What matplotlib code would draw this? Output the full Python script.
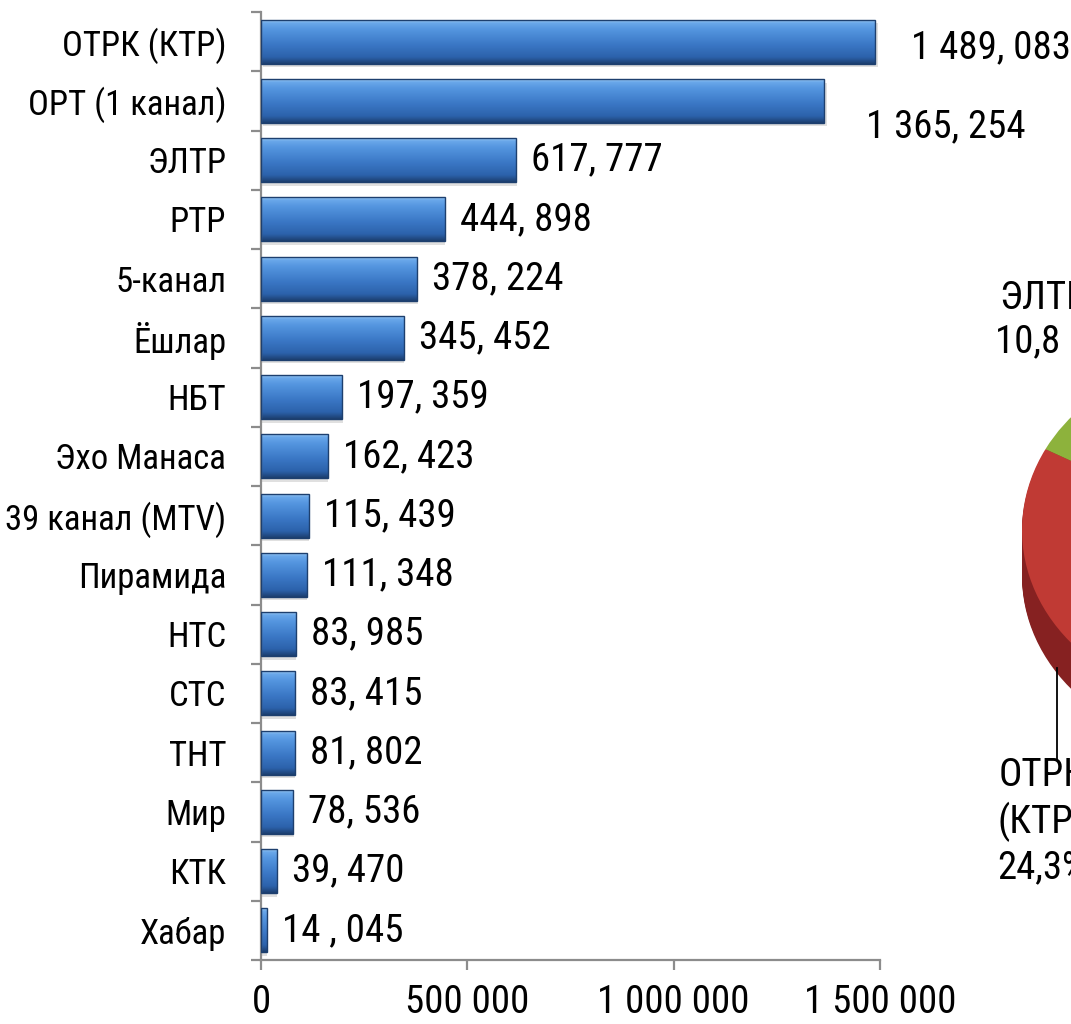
import numpy as np
import matplotlib
matplotlib.use("Agg")
import matplotlib.pyplot as plt
from matplotlib.colors import LinearSegmentedColormap
from matplotlib.lines import Line2D

plt.rcParams["font.family"] = ["Roboto Condensed", "DejaVu Sans"]

# ---- data -------------------------------------------------------------------
channels = ["ОТРК (КТР)", "ОРТ (1 канал)", "ЭЛТР", "РТР", "5-канал", "Ёшлар",
            "НБТ", "Эхо Манаса", "39 канал (MTV)", "Пирамида", "НТС", "СТС",
            "ТНТ", "Мир", "КТК", "Хабар"]
values = [1489083, 1365254, 617777, 444898, 378224, 345452, 197359, 162423,
          115439, 111348, 83985, 83415, 81802, 78536, 39470, 14045]
value_labels = ["1 489, 083", "1 365, 254", "617, 777", "444, 898", "378, 224",
                "345, 452", "197, 359", "162, 423", "115, 439", "111, 348",
                "83, 985", "83, 415", "81, 802", "78, 536", "39, 470", "14 , 045"]
xticks = [0, 500000, 1000000, 1500000]
xtick_labels = ["0", "500 000", "1 000 000", "1 500 000"]

pie_labels = ["ЭЛТР\n10,8 %", "ОТРК\n(КТР)\n24,3%"]
pie_values = [10.8, 24.3, 64.9]   # last slice lies outside the visible crop

# ---- figure -----------------------------------------------------------------
W, H = 1071, 1024
fig = plt.figure(figsize=(W / 100, H / 100), dpi=100)
ax = fig.add_axes([261 / W, 1 - 960 / H, (880 - 261) / W, (960 - 12) / H])

n = len(channels)
ypos = np.arange(n)
bh = 0.74

grad = LinearSegmentedColormap.from_list("bar", [
    (0.00, "#9cc8f4"), (0.06, "#6aa8ea"), (0.20, "#5596e0"),
    (0.55, "#3b78c6"), (0.85, "#2c62ab"), (1.00, "#1c3f70")])
col = np.linspace(0, 1, 64).reshape(-1, 1)

for y, v in zip(ypos, values):
    # soft shadow under the bar
    ax.add_patch(plt.Rectangle((v * 0.004, y - bh / 2 + 0.06), v, bh,
                 facecolor="#000000", alpha=0.12, linewidth=0, zorder=1))
    ax.imshow(col, cmap=grad, aspect="auto", interpolation="bilinear",
              extent=(0, v, y + bh / 2, y - bh / 2), zorder=2)
    ax.add_patch(plt.Rectangle((0, y - bh / 2), v, bh, facecolor="none",
                 edgecolor="#1d3f6e", linewidth=1.0, zorder=3))

label_offsets = {0: (36, 6), 1: (42, 26)}
for i, (v, lab) in enumerate(zip(values, value_labels)):
    dx, dy = label_offsets.get(i, (15, 0))
    ax.annotate(lab, (v, ypos[i]), textcoords="offset pixels",
                xytext=(dx, -dy), ha="left", va="center", fontsize=28,
                color="black", annotation_clip=False)

ax.set_xlim(0, 1500000)
ax.set_ylim(n - 0.5, -0.5)
for s in ("top", "right"):
    ax.spines[s].set_visible(False)
for s in ("left", "bottom"):
    ax.spines[s].set_color("#8c8c8c")
    ax.spines[s].set_linewidth(1.6)

ax.set_yticks(ypos)
ax.set_yticklabels(channels, fontsize=25)
ax.set_yticks(np.arange(n + 1) - 0.5, minor=True)
ax.tick_params(axis="y", which="major", length=0, pad=25)
ax.tick_params(axis="y", which="minor", length=7, width=1.6, color="#8c8c8c")
ax.set_xticks(xticks)
ax.set_xticklabels(xtick_labels, fontsize=28)
ax.tick_params(axis="x", length=7, width=1.6, color="#8c8c8c", pad=10)

# ---- pie fragment at the right edge (ellipse, extruded) ---------------------
cx, cy, rx, ry = 1222, 530, 200, 172
pax = fig.add_axes([(cx - rx) / W, 1 - (cy + 1.4 * ry) / H,
                    2 * rx / W, 2.4 * ry / H])
depth = 46 / ry
top_cols = ["#8db23c", "#c03a34", "#4a7cc0"]
side_cols = ["#5e7d22", "#862121", "#2d5587"]
for k in np.linspace(depth, 0.0, 30)[:-1]:
    pax.pie(pie_values, startangle=113.1, counterclock=True, radius=1,
            center=(0, -k), colors=side_cols,
            wedgeprops=dict(linewidth=0), frame=True)
pax.pie(pie_values, startangle=113.1, counterclock=True, radius=1,
        center=(0, 0), colors=top_cols,
        wedgeprops=dict(linewidth=0), frame=True)
pax.set_aspect("auto")
pax.set_xlim(-1, 1)
pax.set_ylim(-1.4, 1)
pax.axis("off")

fig.add_artist(Line2D([1057 / W, 1057 / W], [1 - 668 / H, 1 - 760 / H],
                      transform=fig.transFigure, color="black", linewidth=1.3))
fig.text(1044 / W, 1 - 320 / H, pie_labels[0], ha="center", va="center",
         fontsize=28, linespacing=1.2)
fig.text(1042 / W, 1 - 822 / H, pie_labels[1], ha="center", va="center",
         fontsize=28, linespacing=1.25)

fig.savefig("out.png", dpi=100)
